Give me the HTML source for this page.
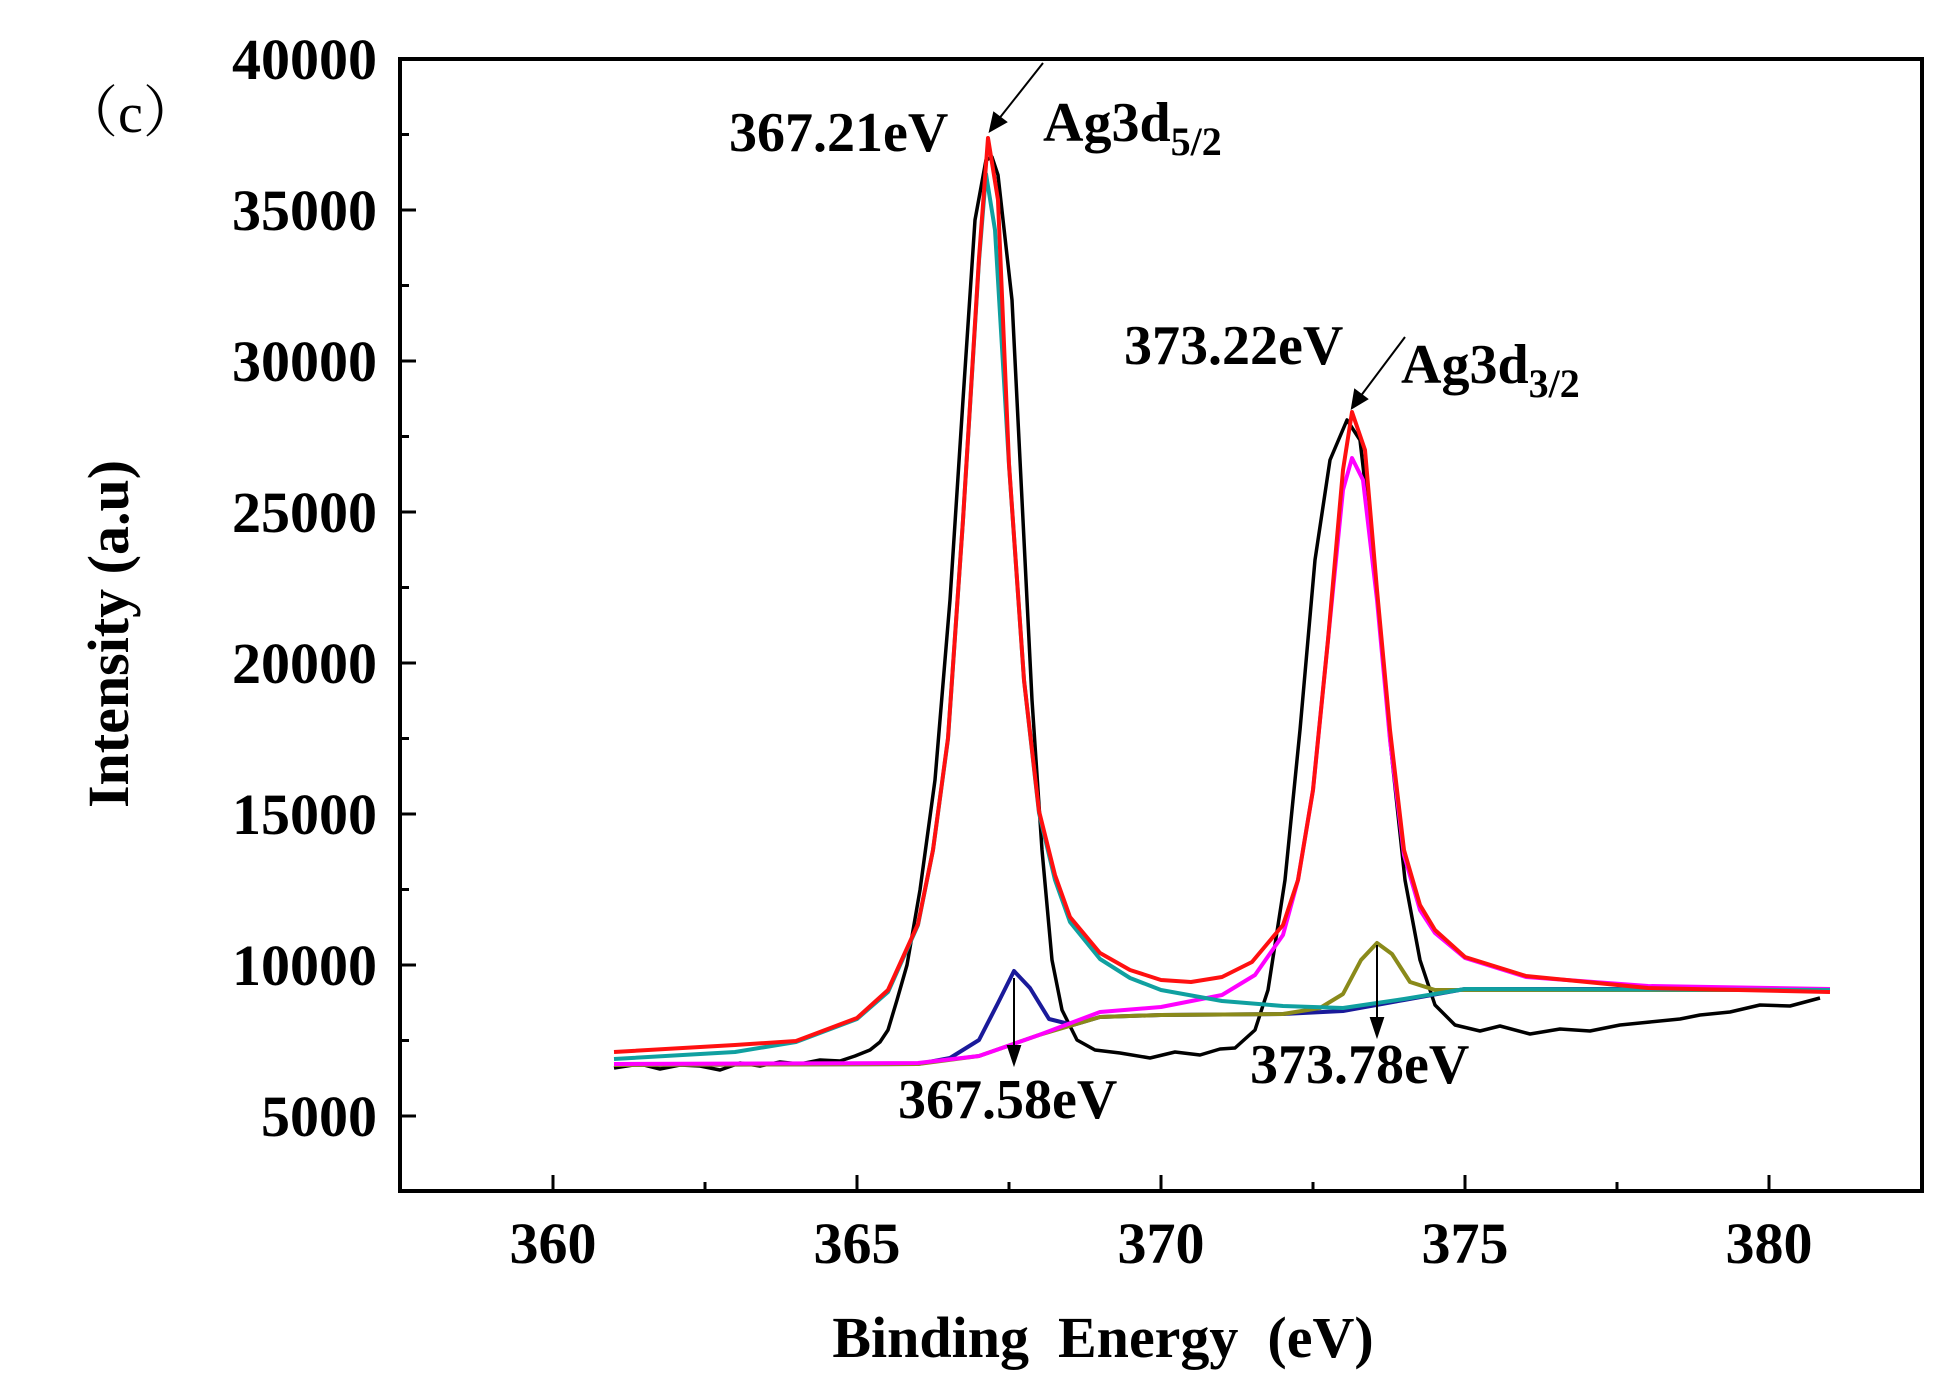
<!DOCTYPE html>
<html><head><meta charset="utf-8"><style>
body{margin:0;background:#fff;}
svg{display:block}
text{font-family:"Liberation Serif",serif;font-weight:bold;fill:#000}
</style></head><body>
<svg width="1960" height="1400" xmlns="http://www.w3.org/2000/svg">
<rect width="1960" height="1400" fill="#fff"/>
<g fill="none" stroke-width="4" stroke-linejoin="round">
<polyline stroke="#000" stroke-width="3.5" points="614,1068 640,1064 660,1069 680,1065 700,1066 720,1070 740,1063 760,1066 780,1062 800,1064 820,1060 840,1061 855,1056 870,1050 880,1042 888,1030 897,1000 907,965 920,890 935,780 950,600 963,400 975,220 986,160 992,157 998,175 1012,300 1022,500 1032,700 1042,850 1052,960 1062,1010 1077,1040 1095,1050 1120,1053 1150,1058 1175,1052 1200,1055 1220,1049 1235,1048 1255,1030 1268,990 1285,880 1300,730 1315,560 1330,460 1347,420 1360,440 1375,570 1390,740 1405,880 1420,960 1435,1005 1455,1025 1480,1031 1500,1026 1530,1034 1560,1029 1590,1031 1620,1025 1650,1022 1680,1019 1700,1015 1730,1012 1760,1005 1790,1006 1820,998"/>
<polyline stroke="#1a1a9a" points="614,1065 918,1064 950,1058 979,1040 998,1003 1014,971 1030,988 1049,1019 1073,1025 1100,1017 1161,1015 1283,1014 1343,1011 1404,1000 1465,989 1830,989"/>
<polyline stroke="#8a8a1a" points="614,1065 918,1064 979,1056 1039,1035 1100,1017 1161,1015 1283,1014 1320,1008 1343,994 1361,960 1377,943 1392,954 1410,982 1435,990 1830,990"/>
<polyline stroke="#ff00ff" points="614,1064 918,1063 979,1056 1039,1035 1100,1012 1161,1007 1222,995 1255,975 1283,935 1298,880 1313,790 1328,640 1343,490 1352,458 1363,480 1377,600 1390,740 1404,855 1420,910 1435,933 1465,958 1526,977 1648,986 1830,989"/>
<polyline stroke="#10a0a0" points="614,1059 735,1052 796,1042 857,1019 888,992 918,925 933,850 948,739 963,520 979,261 986,174 995,230 1009,465 1024,680 1039,813 1055,880 1070,922 1100,959 1130,978 1161,990 1222,1001 1283,1006 1343,1008 1404,999 1465,989 1830,990"/>
<polyline stroke="#ff1010" points="614,1052 735,1045 796,1041 857,1018 888,990 918,924 933,850 948,738 963,520 979,258 988,138 998,200 1009,464 1024,680 1039,811 1055,875 1070,917 1100,953 1130,970 1161,980 1191,982 1222,977 1252,962 1283,925 1298,880 1313,790 1328,640 1343,470 1352,412 1365,450 1377,590 1390,730 1404,850 1420,905 1435,930 1465,957 1526,976 1648,988 1830,992"/>
</g>
<rect x="400" y="59" width="1522" height="1132" fill="none" stroke="#000" stroke-width="4"/>
<g stroke="#000" stroke-width="3">
<line x1="553" y1="1191" x2="553" y2="1175"/><line x1="857" y1="1191" x2="857" y2="1175"/><line x1="1161" y1="1191" x2="1161" y2="1175"/><line x1="1465" y1="1191" x2="1465" y2="1175"/><line x1="1769" y1="1191" x2="1769" y2="1175"/>
<line x1="705" y1="1191" x2="705" y2="1182"/><line x1="1009" y1="1191" x2="1009" y2="1182"/><line x1="1313" y1="1191" x2="1313" y2="1182"/><line x1="1617" y1="1191" x2="1617" y2="1182"/>
<line x1="400" y1="210" x2="416" y2="210"/><line x1="400" y1="361" x2="416" y2="361"/><line x1="400" y1="512" x2="416" y2="512"/><line x1="400" y1="663" x2="416" y2="663"/><line x1="400" y1="814" x2="416" y2="814"/><line x1="400" y1="965" x2="416" y2="965"/><line x1="400" y1="1116" x2="416" y2="1116"/>
<line x1="400" y1="134.5" x2="409" y2="134.5"/><line x1="400" y1="285.5" x2="409" y2="285.5"/><line x1="400" y1="436.5" x2="409" y2="436.5"/><line x1="400" y1="587.5" x2="409" y2="587.5"/><line x1="400" y1="738.5" x2="409" y2="738.5"/><line x1="400" y1="889.5" x2="409" y2="889.5"/><line x1="400" y1="1040.5" x2="409" y2="1040.5"/>
</g>
<g font-size="58" text-anchor="end">
<text x="377" y="79">40000</text><text x="377" y="230">35000</text><text x="377" y="381">30000</text>
<text x="377" y="532">25000</text><text x="377" y="683">20000</text><text x="377" y="834">15000</text>
<text x="377" y="985">10000</text><text x="377" y="1136">5000</text>
</g>
<g font-size="58" text-anchor="middle">
<text x="553" y="1263">360</text><text x="857" y="1263">365</text><text x="1161" y="1263">370</text>
<text x="1465" y="1263">375</text><text x="1769" y="1263">380</text>
<text x="1103" y="1357" xml:space="preserve">Binding  Energy  (eV)</text>
<text transform="translate(128,634) rotate(-90)">Intensity (a.u)</text>
</g>
<text x="62" y="132" font-size="56" style="font-weight:normal;font-family:'Liberation Serif','Noto Serif CJK SC',serif">（c）</text>
<g font-size="56">
<text x="729" y="151">367.21eV</text>
<text x="1043" y="141">Ag3d<tspan font-size="40" dy="14">5/2</tspan></text>
<text x="1124" y="364">373.22eV</text>
<text x="1401" y="383">Ag3d<tspan font-size="40" dy="14">3/2</tspan></text>
<text x="898" y="1118">367.58eV</text>
<text x="1250" y="1083">373.78eV</text>
</g>
<g stroke="#000" stroke-width="2" fill="#000">
<line x1="1043" y1="63" x2="998" y2="120"/><polygon points="990,131 994,113 1006,122"/>
<line x1="1405" y1="337" x2="1360" y2="397"/><polygon points="1352,408 1355,390 1367,399"/>
<line x1="1014" y1="978" x2="1014" y2="1050"/><polygon points="1014,1064 1008,1046 1020,1046"/>
<line x1="1377" y1="945" x2="1377" y2="1022"/><polygon points="1377,1036 1371,1018 1383,1018"/>
</g>
</svg>
</body></html>
